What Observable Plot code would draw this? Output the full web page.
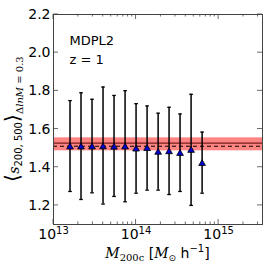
<!DOCTYPE html>
<html><head><meta charset="utf-8">
<script src="https://cdn.jsdelivr.net/npm/d3@7"></script>
<script src="https://cdn.jsdelivr.net/npm/@observablehq/plot@0.6"></script>
<style>html,body{margin:0;padding:0;background:#fff} svg{display:block}</style>
</head><body><div id="chart"></div>
<script>
// Data
const mass  = [1.585e13, 2.154e13, 2.929e13, 3.981e13, 5.41e13, 7.36e13, 1.0e14, 1.36e14, 1.85e14, 2.51e14, 3.41e14, 4.64e14, 6.31e14];
const sMean = [1.506, 1.506, 1.506, 1.507, 1.505, 1.506, 1.495, 1.498, 1.478, 1.481, 1.472, 1.488, 1.419];
const sHigh = [1.749, 1.790, 1.756, 1.820, 1.776, 1.801, 1.733, 1.721, 1.683, 1.714, 1.679, 1.782, 1.584];
const sLow  = [1.273, 1.231, 1.266, 1.207, 1.247, 1.219, 1.264, 1.280, 1.280, 1.257, 1.273, 1.200, 1.264];
const refLine = [1.526];
const refBand = [{lo: 1.486, hi: 1.554}];
const dashLine = [1.510];
const yTicks = [1.2, 1.4, 1.6, 1.8, 2.0, 2.2];
const xTicks = [1e13, 1e14, 1e15];
const xMinor = [2e13, 3e13, 4e13, 5e13, 6e13, 7e13, 8e13, 9e13, 2e14, 3e14, 4e14, 5e14, 6e14, 7e14, 8e14, 9e14, 2e15, 3e15];
const labelSim = "MDPL2";
const labelZ = "z = 1";

const rows = mass.map((m, i) => ({m, s: sMean[i], lo: sLow[i], hi: sHigh[i]}));
const capSymbol = {draw(ctx, size) { const w = 1.8; ctx.moveTo(-w, 0); ctx.lineTo(w, 0); }};
const FONT = "DejaVu Sans";

const chart = Plot.plot({
  width: 270, height: 270,
  marginLeft: 53, marginRight: 8, marginTop: 14, marginBottom: 46,
  style: {fontFamily: FONT, fontSize: "14px", color: "#000", background: "#fff"},
  x: {type: "log", domain: [1e13, 3.4e15]},
  y: {domain: [1.1, 2.2]},
  marks: [
    Plot.rect(refBand, {y1: "lo", y2: "hi", fill: "#ff8585"}),
    Plot.ruleY(refLine, {stroke: "#7a1c1c", strokeWidth: 1.2}),
    Plot.ruleY(dashLine, {stroke: "#000", strokeWidth: 1, strokeDasharray: "4,3"}),
    Plot.ruleX(rows, {x: "m", y1: "lo", y2: "hi", stroke: "#000", strokeWidth: 1.5}),
    Plot.dot(rows, {x: "m", y: "lo", symbol: capSymbol, stroke: "#000", strokeWidth: 1.3, r: 2}),
    Plot.dot(rows, {x: "m", y: "hi", symbol: capSymbol, stroke: "#000", strokeWidth: 1.3, r: 2}),
    Plot.dot(rows, {x: "m", y: "s", symbol: "triangle", fill: "#0000cc", stroke: "#000", strokeWidth: 0.8, r: 2.5}),
    Plot.text([labelSim], {frameAnchor: "top-left", dx: 16, dy: 21, text: d => d, textAnchor: "start", fontSize: 13, fill: "#000"}),
    Plot.text([labelZ], {frameAnchor: "top-left", dx: 16, dy: 40, text: d => d, textAnchor: "start", fontSize: 13, fill: "#000"}),
    Plot.axisY({ticks: yTicks, tickSize: 0, tickPadding: 3, tickFormat: d => d.toFixed(1), label: null, fontSize: 14}),
    Plot.axisX({ticks: xTicks, tickSize: 0, tickPadding: 5, tickFormat: d => String(Math.round(Math.log10(d))), label: null, fontSize: 14}),
    Plot.frame({stroke: "#444", strokeWidth: 1})
  ]
});

document.getElementById("chart").appendChild(chart);

const svg = d3.select(chart);
const sx = chart.scale("x"), sy = chart.scale("y");
const L = 53, R = 262, T = 14, B = 224;
const g = svg.append("g").attr("stroke", "#444").attr("stroke-width", 0.8);
xTicks.forEach(v => { const x = sx.apply(v);
  g.append("line").attr("x1", x).attr("x2", x).attr("y1", B).attr("y2", B - 5);
  g.append("line").attr("x1", x).attr("x2", x).attr("y1", T).attr("y2", T + 5); });
xMinor.forEach(v => { const x = sx.apply(v);
  g.append("line").attr("x1", x).attr("x2", x).attr("y1", B).attr("y2", B - 2.5);
  g.append("line").attr("x1", x).attr("x2", x).attr("y1", T).attr("y2", T + 2.5); });
yTicks.forEach(v => { const y = sy.apply(v);
  g.append("line").attr("x1", L).attr("x2", L + 5).attr("y1", y).attr("y2", y);
  g.append("line").attr("x1", R).attr("x2", R - 5).attr("y1", y).attr("y2", y); });

// x tick labels as 10^n
svg.selectAll('g[aria-label="x-axis tick label"] text').each(function() {
  const t = d3.select(this); const e = t.text(); t.text("");
  t.append("tspan").text("10");
  t.append("tspan").attr("dy", "-0.5em").attr("font-size", "10px").text(e);
});

// x axis label
const xl = svg.append("text").attr("x", (L + R) / 2).attr("y", 258).attr("text-anchor", "middle")
  .attr("font-family", FONT).attr("font-size", 14).attr("fill", "#000");
xl.append("tspan").attr("font-family", "DejaVu Serif").attr("font-style", "italic").text("M");
xl.append("tspan").attr("font-family", "DejaVu Serif").attr("font-size", 10).attr("dy", 3).text("200c");
xl.append("tspan").attr("dy", -3).text(" [");
xl.append("tspan").attr("font-family", "DejaVu Serif").attr("font-style", "italic").text("M");
xl.append("tspan").attr("font-size", 9).attr("dy", 3).text("⊙");
xl.append("tspan").attr("dy", -3).text(" h");
xl.append("tspan").attr("font-size", 10).attr("dy", -6).text("−1");
xl.append("tspan").attr("dy", 6).text("]");

// y axis label
const yl = svg.append("text").attr("transform", `translate(19,${(T + B) / 2}) rotate(-90)`).attr("text-anchor", "middle")
  .attr("font-family", "DejaVu Serif").attr("font-size", 14).attr("fill", "#000");
yl.append("tspan").attr("font-size", 20).attr("font-family", FONT).attr("font-weight", 200).text("⟨");
yl.append("tspan").attr("font-style", "italic").text("s");
yl.append("tspan").attr("font-size", 10).attr("dy", 3).attr("font-family", FONT).text("200, 500");
yl.append("tspan").attr("font-size", 20).attr("dy", -3).attr("font-family", FONT).attr("font-weight", 200).text("⟩");
yl.append("tspan").attr("font-size", 10).attr("dy", 4).text("Δ");
yl.append("tspan").attr("font-size", 10).attr("font-style", "italic").text("lnM");
yl.append("tspan").attr("font-size", 10).text(" = 0.3");
</script>
</body></html>
